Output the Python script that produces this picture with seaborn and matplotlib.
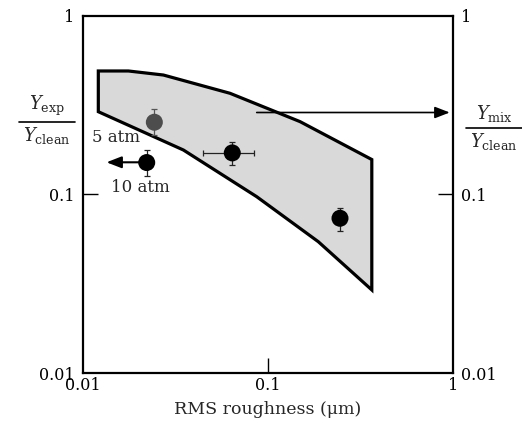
import matplotlib
matplotlib.use("Agg")
import matplotlib.pyplot as plt
import seaborn as sns
import pandas as pd
from matplotlib.lines import Line2D

sns.set_style("white")
plt.rcParams['font.family'] = ['DejaVu Serif']
plt.rcParams['mathtext.fontset'] = 'dejavuserif'

# Band (polygon) in data coordinates
band_x = [0.0121, 0.0176, 0.0272, 0.0623, 0.149, 0.364, 0.364, 0.187, 0.0869, 0.0349, 0.0121]
band_y = [0.492, 0.492, 0.467, 0.369, 0.256, 0.157, 0.0292, 0.0544, 0.0972, 0.1775, 0.291]

# Data points
pt_x = [0.0243, 0.0221, 0.0641, 0.245]
pt_y = [0.254, 0.151, 0.171, 0.0736]
pt_ylo = [0.216, 0.127, 0.146, 0.0625]
pt_yhi = [0.301, 0.177, 0.198, 0.0844]
pt_xlo = [0.0243, 0.0221, 0.0444, 0.245]
pt_xhi = [0.0243, 0.0221, 0.084, 0.245]
pt_group = ["5 atm", "10 atm", "10 atm", "10 atm"]

ticks = [0.01, 0.1, 1]
tick_labels = ["0.01", "0.1", "1"]

df = pd.DataFrame({"x": pt_x, "y": pt_y, "group": pt_group})

fig = plt.figure(figsize=(5.22, 4.33), dpi=100)
ax = fig.add_axes([83/522, 1-373/433, (453-83)/522, (373-16)/433])
ax.set_xscale("log")
ax.set_yscale("log")
ax.set_xlim(0.01, 1)
ax.set_ylim(0.01, 1)

ax.fill(band_x, band_y, facecolor="#d9d9d9", edgecolor="black", linewidth=2.3, joinstyle="miter", zorder=1)

for i in range(len(pt_x)):
    col = "#555555" if pt_group[i] == "5 atm" else "#222222"
    xerr = [[pt_x[i]-pt_xlo[i]], [pt_xhi[i]-pt_x[i]]]
    yerr = [[pt_y[i]-pt_ylo[i]], [pt_yhi[i]-pt_y[i]]]
    ax.errorbar([pt_x[i]], [pt_y[i]], xerr=xerr if pt_xhi[i] != pt_xlo[i] else None,
                yerr=yerr, fmt="none", ecolor=col, elinewidth=0.9, capsize=2.5, capthick=0.9, zorder=2)

sns.scatterplot(data=df, x="x", y="y", hue="group", palette={"5 atm": "#4d4d4d", "10 atm": "black"},
                s=150, edgecolor="none", legend=False, ax=ax, zorder=3)

ax.set_xticks(ticks)
ax.set_xticklabels(tick_labels)
ax.set_yticks(ticks)
ax.set_yticklabels(tick_labels)
ax.minorticks_off()
ax.tick_params(axis="both", which="major", direction="in", length=11, width=1.0,
               labelsize=11.5, colors="black")
ax.tick_params(axis="y", left=True, right=True, labelleft=True, labelright=True, pad=6)
ax.tick_params(axis="x", bottom=True, top=False, pad=3)
for axis in (ax.xaxis, ax.yaxis):
    mt = axis.get_major_ticks()
    for k in (0, len(mt) - 1):
        mt[k].tick1line.set_visible(False)
        mt[k].tick2line.set_visible(False)
for s in ax.spines.values():
    s.set_linewidth(1.6)
    s.set_color("black")
ax.set_xlabel("RMS roughness (\u03bcm)", fontsize=12.5, labelpad=5)
ax.set_ylabel("")

# Arrows
ax.annotate("", xy=(0.0134, 0.1515), xytext=(0.0205, 0.1515),
            arrowprops=dict(arrowstyle="-|>,head_length=0.9,head_width=0.35", color="black", lw=1.5,
                            shrinkA=0, shrinkB=0))
ax.annotate("", xy=(0.96, 0.288), xytext=(0.0869, 0.288),
            arrowprops=dict(arrowstyle="-|>,head_length=0.9,head_width=0.35", color="black", lw=1.2,
                            shrinkA=0, shrinkB=0), annotation_clip=False)

ax.text(0.0112, 0.208, "5 atm", fontsize=12, ha="left", va="center")
ax.text(0.0142, 0.1095, "10 atm", fontsize=12, ha="left", va="center")

# Fraction labels
def frac(xc, yline, top, bottom):
    fig.text(xc/522, 1-(yline-4)/433, top, ha="center", va="bottom", fontsize=13)
    fig.text(xc/522, 1-(yline+3)/433, bottom, ha="center", va="top", fontsize=13)
    fig.add_artist(Line2D([(xc-28)/522, (xc+28)/522], [1-yline/433, 1-yline/433],
                          color="black", lw=1.2, transform=fig.transFigure))

frac(47, 122, r"$Y_{\rm exp}$", r"$Y_{\rm clean}$")
frac(494, 128, r"$Y_{\rm mix}$", r"$Y_{\rm clean}$")

fig.savefig("out.png", dpi=100)
